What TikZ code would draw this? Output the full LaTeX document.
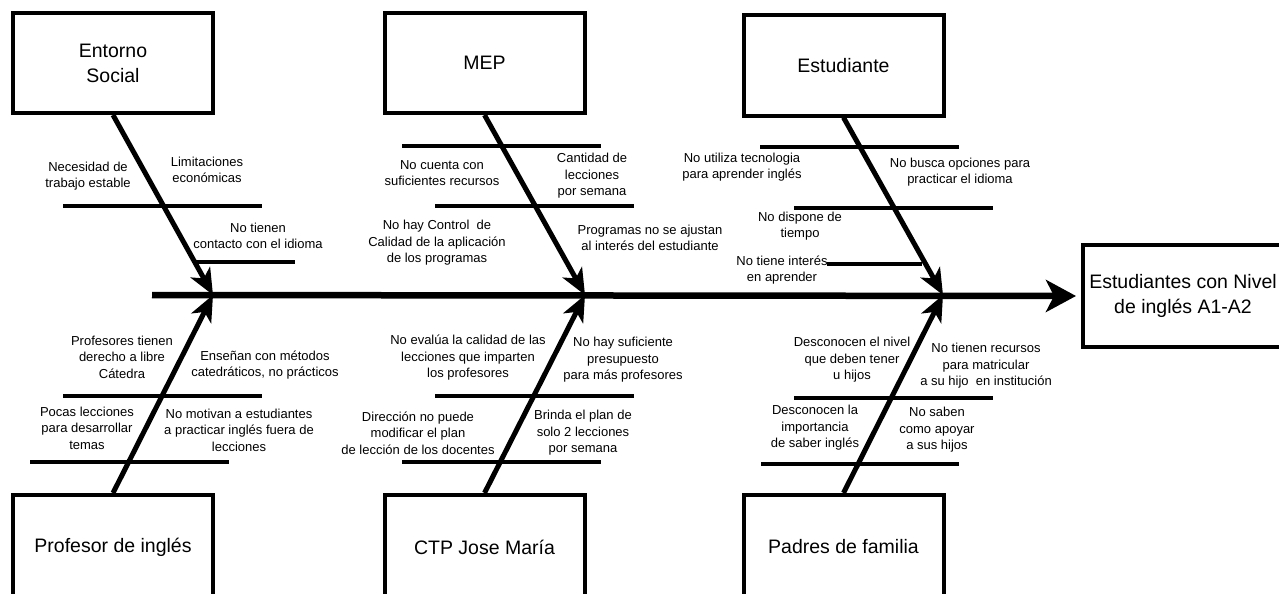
\documentclass[tikz,border=0pt]{standalone}
\usepackage{fontspec}
\setmainfont{Liberation Sans}
\usepackage{tikz}
\usetikzlibrary{arrows.meta}
\usetikzlibrary{positioning}
\tikzset{
  catbox/.style={draw, line width=4pt, minimum width=200pt, minimum height=100pt, align=center, inner sep=0pt, font=\fontsize{19.5}{25}\selectfont},
  lbl/.style={align=center, inner sep=0pt, font=\fontsize{13}{16.5}\selectfont},
  bone/.style={line width=5pt, -{Stealth[length=26pt, width=22pt, inset=7pt]}},
  spine/.style={line width=6.5pt, -{Stealth[length=30pt, width=32pt, inset=8pt]}},
  rib/.style={line width=3.2pt}
}
\begin{document}
\begin{tikzpicture}[x=1pt, y=-1pt]
  \useasboundingbox (0,0) rectangle (1279,594);
  % cajas de categorias
  \node[catbox] (social) at (113,63) {Entorno\\Social};
  \node[catbox] (mep) at (484.5,63) {MEP};
  \node[catbox] (estud) at (843.5,65.5) {Estudiante};
  \node[catbox, minimum height=104pt] (profe) at (113,547) {Profesor de inglés};
  \node[catbox, minimum height=104pt] (ctp) at (484.5,547) {CTP Jose María};
  \node[catbox, minimum height=104pt] (padres) at (843.5,547) {Padres de familia};
  \node[catbox, minimum height=102pt] (efecto) at (1183,296) {Estudiantes con Nivel\\de inglés A1-A2};
  % espina
  \coordinate (tail) at (152,295);
  \coordinate (j1) at (213,295);
  \coordinate (j2) at (585,295);
  \coordinate (j3) at (943,295);
  \draw[spine, shorten >=5pt] (tail) -- (efecto.west);
  \draw[bone] (social.south) -- (j1);
  \draw[bone] (mep.south) -- (j2);
  \draw[bone] (estud.south) -- (j3);
  \draw[bone] (profe.north) -- (j1);
  \draw[bone] (ctp.north) -- (j2);
  \draw[bone] (padres.north) -- (j3);
  % lineas secundarias
  \draw[rib] (63,206) -- (262,206);
  \draw[rib] (196,262) -- (295,262);
  \draw[rib] (402,146) -- (601,146);
  \draw[rib] (435,206) -- (634,206);
  \draw[rib] (760,147) -- (959,147);
  \draw[rib] (794,208) -- (993,208);
  \draw[rib] (827,264) -- (922,264);
  \draw[rib] (63,396) -- (262,396);
  \draw[rib] (30,462) -- (229,462);
  \draw[rib] (435,396) -- (634,396);
  \draw[rib] (402,462) -- (601,462);
  \draw[rib] (794,398) -- (993,398);
  \draw[rib] (761,464) -- (959,464);
  % causas
  \node[lbl] (nec) at (88,176) {Necesidad de\\trabajo estable};
  \node[lbl] (lim) at (207,170) {Limitaciones\\económicas};
  \node[lbl] (cont) at (258,236) {No tienen\\contacto con el idioma};
  \node[lbl] (recur) at (442,173) {No cuenta con\\suficientes recursos};
  \node[lbl] (cant) at (592,176) {Cantidad de\\lecciones\\por semana};
  \node[lbl] (ctrl) at (437,243) {No hay Control\ \ de\\Calidad de la aplicación\\de los programas};
  \node[lbl] (prog) at (650,238) {Programas no se ajustan\\al interés del estudiante};
  \node[lbl] (tec) at (742,167) {No utiliza tecnologia\\para aprender inglés};
  \node[lbl] (busca) at (960,172) {No busca opciones para\\practicar el idioma};
  \node[lbl] (tiempo) at (800,226) {No dispone de\\tiempo};
  \node[lbl] (interes) at (782,270) {No tiene interés\\en aprender};
  \node[lbl] (catedra) at (122,357) {Profesores tienen\\derecho a libre\\Cátedra};
  \node[lbl] (metodos) at (265,365) {Enseñan con métodos\\catedráticos, no prácticos};
  \node[lbl] (pocas) at (87,428) {Pocas lecciones\\para desarrollar\\temas};
  \node[lbl] (motiv) at (239,430) {No motivan a estudiantes\\a practicar inglés fuera de\\lecciones};
  \node[lbl] (evalua) at (468,358) {No evalúa la calidad de las\\lecciones que imparten\\los profesores};
  \node[lbl] (presu) at (623,360) {No hay suficiente\\presupuesto\\para más profesores};
  \node[lbl] (direc) at (418,433) {Dirección no puede\\modificar el plan\\de lección de los docentes};
  \node[lbl] (brinda) at (583,433) {Brinda el plan de\\solo 2 lecciones\\por semana};
  \node[lbl] (nivel) at (852,360) {Desconocen el nivel\\que deben tener\\u hijos};
  \node[lbl] (matri) at (986,366) {No tienen recursos\\para matricular\\a su hijo\ \ en institución};
  \node[lbl] (import) at (815,428) {Desconocen la\\importancia\\de saber inglés};
  \node[lbl] (apoyar) at (937,430) {No saben\\como apoyar\\a sus hijos};
\end{tikzpicture}
\end{document}
